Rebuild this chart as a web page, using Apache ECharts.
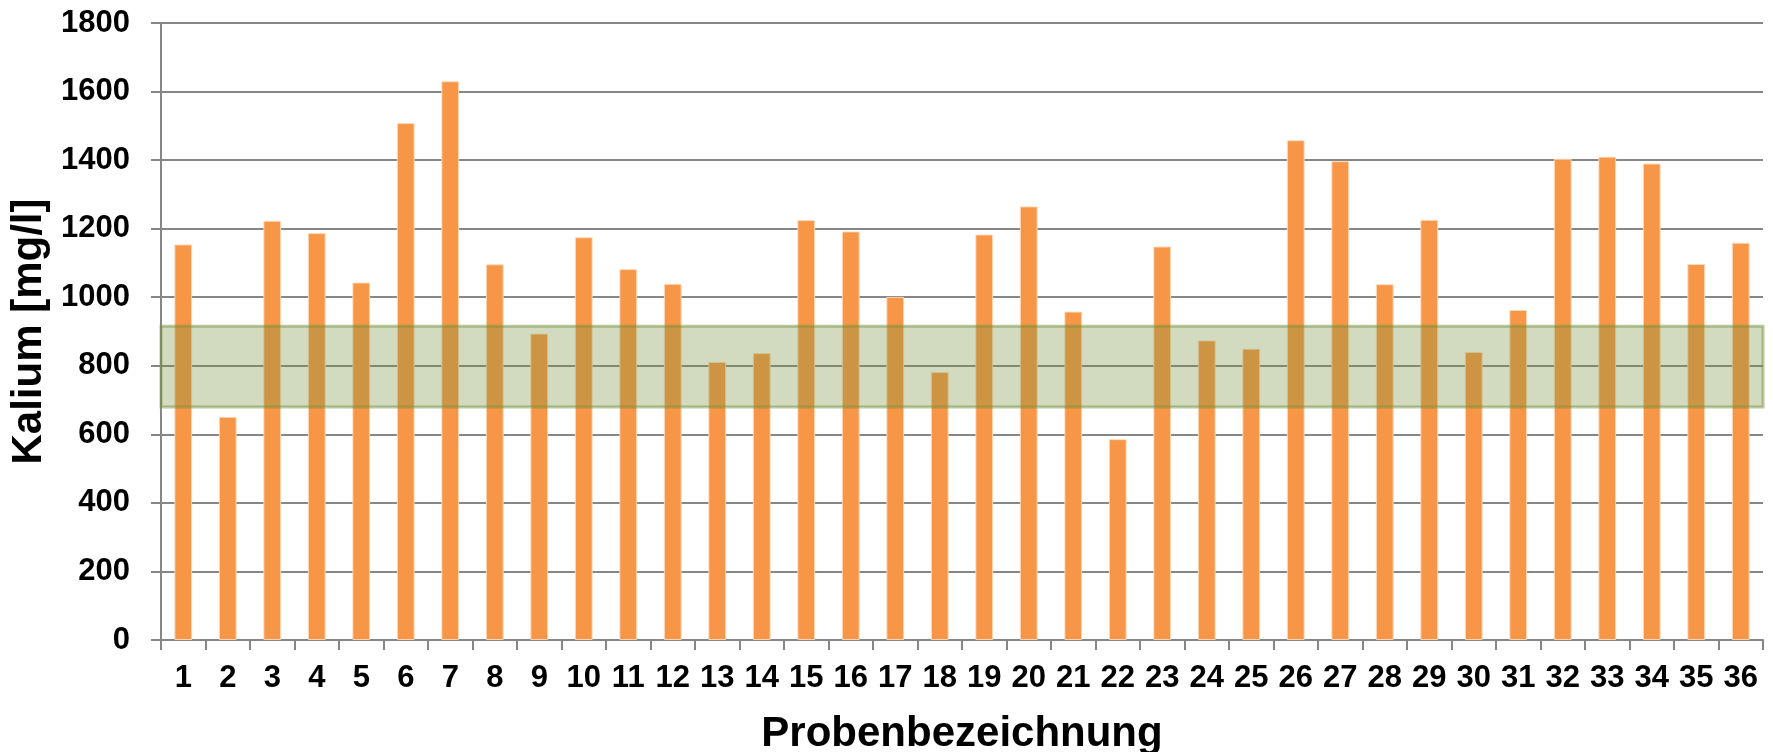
<!DOCTYPE html>
<html>
<head>
<meta charset="utf-8">
<script src="https://cdn.jsdelivr.net/npm/echarts@6/dist/echarts.min.js"></script>
<style>
html,body{margin:0;padding:0;background:#fff;}
#chart{width:1773px;height:752px;}
</style>
</head>
<body>
<div id="chart"></div>
<script>
const categories = ['1','2','3','4','5','6','7','8','9','10','11','12','13','14','15','16','17','18','19','20','21','22','23','24','25','26','27','28','29','30','31','32','33','34','35','36'];
const kalium = [1154, 651, 1223, 1187, 1043, 1508, 1630, 1096, 894, 1175, 1082, 1039, 811, 837, 1225, 1192, 1001, 782, 1183, 1265, 958, 586, 1148, 874, 850, 1458, 1397, 1038, 1226, 840, 963, 1404, 1410, 1390, 1097, 1159];
const bandRange = [680, 915];
const yTicks = { min: 0, max: 1800, interval: 200 };
const xAxisTitle = 'Probenbezeichnung';
const yAxisTitle = 'Kalium [mg/l]';

const font = '"Liberation Sans", Arial, sans-serif';
const chart = echarts.init(document.getElementById('chart'), null, { renderer: 'canvas' });
chart.setOption({
  animation: false,
  backgroundColor: '#ffffff',
  grid: { left: 161, right: 10, top: 23, bottom: 112, containLabel: false, outerBoundsMode: 'none' },
  xAxis: {
    type: 'category',
    data: categories,
    boundaryGap: true,
    name: xAxisTitle,
    nameLocation: 'middle',
    nameGap: 73,
    nameTextStyle: { fontFamily: font, fontWeight: 'bold', fontSize: 42, color: '#000' },
    axisLine: { lineStyle: { color: '#868686', width: 2 } },
    axisTick: { show: true, length: 10, inside: false, alignWithLabel: false, lineStyle: { color: '#868686', width: 2 } },
    axisLabel: { margin: 23, fontFamily: font, fontWeight: 'bold', fontSize: 31, color: '#000', interval: 0 },
    splitLine: { show: false }
  },
  yAxis: {
    type: 'value',
    min: yTicks.min,
    max: yTicks.max,
    interval: yTicks.interval,
    name: yAxisTitle,
    nameLocation: 'middle',
    nameGap: 106,
    nameRotate: 90,
    nameTextStyle: { fontFamily: font, fontWeight: 'bold', fontSize: 42, color: '#000' },
    axisLine: { show: true, lineStyle: { color: '#868686', width: 2 } },
    axisTick: { show: true, length: 10, inside: false, lineStyle: { color: '#868686', width: 2 } },
    axisLabel: { margin: 31, fontFamily: font, fontWeight: 'bold', fontSize: 31, color: '#000', formatter: function (v) { return String(v); } },
    splitLine: { show: true, lineStyle: { color: '#868686', width: 2 } }
  },
  series: [{
    type: 'bar',
    data: kalium,
    barWidth: '40%',
    itemStyle: { color: '#F79646', borderColor: 'rgba(255,220,190,0.9)', borderWidth: 1 },
    markArea: {
      silent: true,
      z: 5,
      itemStyle: { color: 'rgba(118,146,60,0.33)', borderColor: 'rgba(118,146,60,0.5)', borderWidth: 3 },
      data: [[{ yAxis: bandRange[0] }, { yAxis: bandRange[1] }]]
    }
  }]
});
</script>
</body>
</html>
